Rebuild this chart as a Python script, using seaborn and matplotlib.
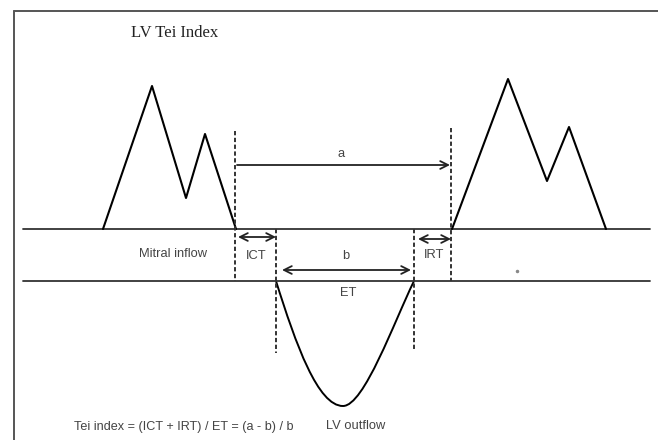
import matplotlib
matplotlib.use('Agg')
import matplotlib.pyplot as plt
from matplotlib.path import Path
from matplotlib.patches import PathPatch
import seaborn as sns
import pandas as pd

# Diagram drawn in pixel space of the 658x440 picture (y grows downward)
mitral_left_x = [103, 152, 186, 205, 236]
mitral_left_y = [229, 86, 198, 134, 229]
mitral_right_x = [452, 508, 547, 569, 606]
mitral_right_y = [229, 79, 181, 127, 229]

# LV outflow: start, bezier controls, trough, bezier controls, end
outflow_pts = [(276, 281), (296, 345), (318, 406), (343, 406),
               (364, 406), (394, 322), (414, 281)]

baseline_top = 229
baseline_bottom = 281

# dashed markers: (x, y_top, y_bottom)
dashed_marks = [(235, 131, 281), (451, 128, 281), (276, 229, 353), (414, 229, 351)]

# interval arrows: (x0, x1, y, label, label_x, label_y, style)
intervals = [(237, 450, 165, 'a', 341, 154, '->'),
             (238, 276, 237, 'ICT', 256, 256, '<->'),
             (282, 411, 270, 'b', 346, 256, '<->'),
             (418, 451, 239, 'IRT', 434, 255, '<->')]

sns.set_theme(style='white')
plt.rcParams['font.family'] = ['Liberation Sans', 'DejaVu Sans']

fig = plt.figure(figsize=(6.58, 4.40), dpi=100)
ax = fig.add_axes([0, 0, 1, 1])
ax.set_xlim(0, 658)
ax.set_ylim(440, 0)
ax.axis('off')

# frame (top and left only visible)
ax.plot([14, 658], [11, 11], color='#555555', lw=1.4)
ax.plot([14, 14], [11, 440], color='#555555', lw=1.4)

# baselines
ax.plot([23, 650], [baseline_top, baseline_top], color='#333333', lw=1.3)
ax.plot([23, 650], [baseline_bottom, baseline_bottom], color='#333333', lw=1.3)

# mitral inflow waves
left = pd.DataFrame({'x': mitral_left_x, 'y': mitral_left_y})
right = pd.DataFrame({'x': mitral_right_x, 'y': mitral_right_y})
sns.lineplot(data=left, x='x', y='y', sort=False, color='black', lw=1.5, ax=ax)
sns.lineplot(data=right, x='x', y='y', sort=False, color='black', lw=1.5, ax=ax)

# LV outflow curve
codes = [Path.MOVETO, Path.CURVE4, Path.CURVE4, Path.CURVE4,
         Path.CURVE4, Path.CURVE4, Path.CURVE4]
ax.add_patch(PathPatch(Path(outflow_pts, codes), fill=False, color='black', lw=1.4))

# dashed verticals
for x, y0, y1 in dashed_marks:
    ax.plot([x, x], [y0, y1], color='#333333', lw=1.4, linestyle=(0, (2.2, 1.3)))

# interval arrows and labels
for x0, x1, y, lab, lx, ly, style in intervals:
    ax.annotate('', xy=(x1, y), xytext=(x0, y),
                arrowprops=dict(arrowstyle=style, color='#222222', lw=1.3,
                                shrinkA=0, shrinkB=0, mutation_scale=14))
    ax.text(lx, ly, lab, fontsize=9.3, color='#444444', ha='center', va='center')

ax.text(348, 293, 'ET', fontsize=9.3, color='#444444', ha='center', va='center')
ax.text(173, 254, 'Mitral inflow', fontsize=9.3, color='#444444', ha='center', va='center')
ax.text(356, 426, 'LV outflow', fontsize=9.3, color='#444444', ha='center', va='center')
ax.text(184, 427, 'Tei index = (ICT + IRT) / ET = (a - b) / b', fontsize=9.1,
        color='#444444', ha='center', va='center')
ax.text(175, 33, 'LV Tei Index', fontsize=12, color='#222222', ha='center',
        va='center', family=['Liberation Serif', 'DejaVu Serif'])

# small speck in the original scan
ax.plot([517], [271], marker='o', ms=1.5, color='#888888')

fig.savefig('out.png', dpi=100)
